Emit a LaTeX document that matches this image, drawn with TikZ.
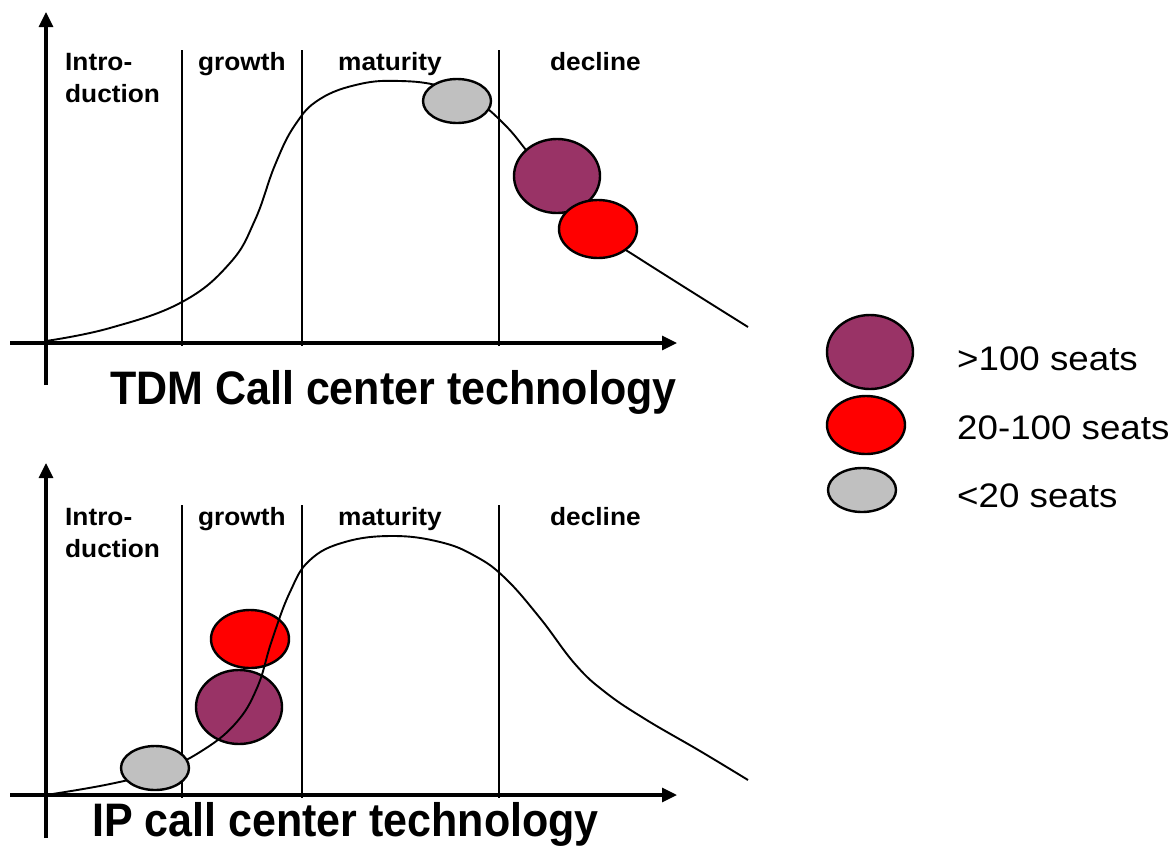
\documentclass[tikz,border=0pt]{standalone}
\usepackage{fontspec}
\setmainfont{Liberation Sans}
\newfontfamily\phasefont[FakeStretch=1.05]{Liberation Sans}
\newfontfamily\titlefont[FakeStretch=0.915]{Liberation Sans}
\newfontfamily\keyfont[FakeStretch=1.08]{Liberation Sans}
\usetikzlibrary{arrows.meta,shapes.geometric}
\definecolor{plum}{HTML}{993366}
\definecolor{seatred}{HTML}{FF0000}
\definecolor{seatgray}{HTML}{C0C0C0}
\begin{document}
\begin{tikzpicture}[x=1pt,y=-1pt,
  axis/.style={line width=3.2pt,-{Triangle[length=15pt,width=14pt]}},
  phaseline/.style={line width=1.8pt},
  lifecurve/.style={line width=1.9pt,line join=round},
  blob/.style={ellipse,draw,line width=2.4pt,inner sep=0pt},
  bigblob/.style={blob,fill=plum,minimum width=86pt,minimum height=74pt},
  midblob/.style={blob,fill=seatred,minimum width=78pt,minimum height=58pt},
  smallblob/.style={blob,fill=seatgray,minimum width=68pt,minimum height=44pt},
  phase/.style={anchor=base west,inner sep=0pt,font=\phasefont\bfseries\fontsize{25}{30}\selectfont},
  charttitle/.style={anchor=base west,inner sep=0pt,font=\titlefont\bfseries\fontsize{47}{56}\selectfont},
  keytext/.style={anchor=base west,inner sep=0pt,font=\keyfont\fontsize{34}{40}\selectfont}]
\useasboundingbox (0,0) rectangle (1176,847);

% ---------- upper chart: TDM ----------
\draw[phaseline] (182,50) -- (182,346);
\draw[phaseline] (302,50) -- (302,346);
\draw[phaseline] (499,50) -- (499,346);
\draw[axis] (46,385) -- (46,12);
\draw[axis] (10,343) -- (677,343);

\node[phase] (tdmIntroA) at (65,70) {Intro-};
\node[phase] (tdmIntroB) at (65,102) {duction};
\node[phase] (tdmGrowth) at (198,70) {growth};
\node[phase] (tdmMaturity) at (338,70) {maturity};
\node[phase] (tdmDecline) at (550,70) {decline};

\draw[lifecurve] plot[smooth,tension=0.7] coordinates {
  (46,341) (110,328) (182,302) (230,263) (255,220) (275,165) (295,125)
  (320,99) (360,84) (400,81) (440,86) (475,100) (505,125) (530,155)
  (560,192) (600,232) (640,259) (748,327)};

\node[smallblob] (tdmSmall) at (457,101) {};
\node[bigblob] (tdmLarge) at (557,176) {};
\node[midblob] (tdmMid) at (598,229) {};

\node[charttitle] (tdmTitle) at (110,404) {TDM Call center technology};

% ---------- lower chart: IP ----------
\draw[phaseline] (182,505) -- (182,798);
\draw[phaseline] (302,505) -- (302,798);
\draw[phaseline] (499,505) -- (499,798);
\draw[axis] (46,838) -- (46,463);
\draw[axis] (10,795) -- (677,795);

\node[phase] (ipIntroA) at (65,525) {Intro-};
\node[phase] (ipIntroB) at (65,557) {duction};
\node[phase] (ipGrowth) at (198,525) {growth};
\node[phase] (ipMaturity) at (338,525) {maturity};
\node[phase] (ipDecline) at (550,525) {decline};

\node[midblob] (ipMid) at (250,639) {};
\node[bigblob] (ipLarge) at (239,707) {};

\draw[lifecurve] plot[smooth,tension=0.7] coordinates {
  (46,795) (110,784) (160,771) (200,752) (235,724) (257,688) (272,640)
  (290,592) (310,560) (345,542) (393,536) (440,542) (475,556) (505,578)
  (540,618) (575,664) (605,692) (645,719) (700,751) (748,780)};

\node[smallblob] (ipSmall) at (155,768) {};

\node[charttitle] (ipTitle) at (92,836) {IP call center technology};

% ---------- key ----------
\node[bigblob] (keyLarge) at (870,352) {};
\node[midblob] (keyMid) at (866,425) {};
\node[smallblob] (keySmall) at (862,490) {};
\node[keytext] (keyLargeText) at (957,370) {>100 seats};
\node[keytext] (keyMidText) at (957,439) {20-100 seats};
\node[keytext] (keySmallText) at (957,507) {<20 seats};
\end{tikzpicture}
\end{document}
